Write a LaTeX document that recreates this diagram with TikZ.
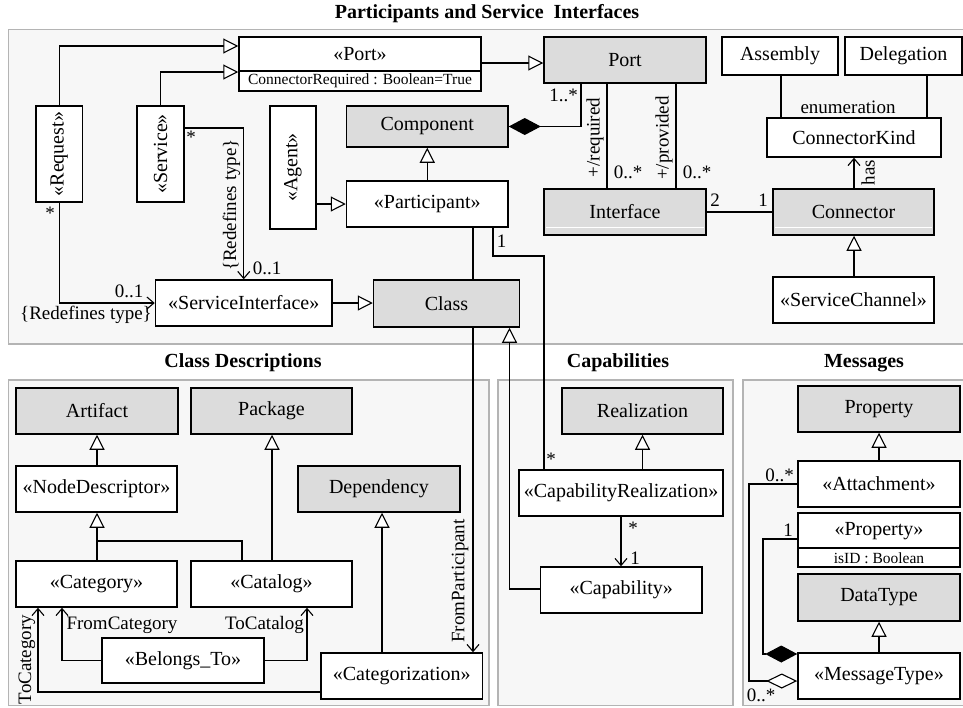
\documentclass[tikz,border=0pt]{standalone}
\usepackage{fontspec}
\setmainfont{Liberation Serif}
\usepackage{graphicx}
\usetikzlibrary{arrows.meta}
\definecolor{boxgray}{RGB}{220,220,220}
\definecolor{panelfill}{RGB}{247,247,247}
\definecolor{panelline}{RGB}{180,180,180}
\pgfdeclarelayer{bg}\pgfdeclarelayer{edges}\pgfsetlayers{bg,edges,main}
\newcommand\fbody{\fontsize{20}{24}\selectfont}
\newcommand\flab{\fontsize{19}{22}\selectfont}
\newcommand\fsmall{\fontsize{15.5}{18}\selectfont}
\newcommand\ftitle{\fontsize{20}{24}\selectfont\bfseries}
\newcommand\umlbox[7][box]{%
 \pgfmathsetmacro\ubcx{(#3+#5)/2}%
 \pgfmathsetmacro\ubcy{(#4+#6)/2}%
 \pgfmathsetmacro\ubww{#5-#3}%
 \pgfmathsetmacro\ubhh{#6-#4}%
 \node[#1, minimum width=\ubww pt, minimum height=\ubhh pt] (#2) at (\ubcx,\ubcy) {#7};}
\tikzset{
  box/.style={draw, line width=1.5pt, fill=white, inner sep=0pt, font=\fbody},
  gbox/.style={box, fill=boxgray},
  panel/.style={draw=panelline, fill=panelfill, line width=1.5pt},
  conn/.style={line width=1.1pt},
  gen/.style={conn, -{Triangle[length=15pt, width=15pt, fill=white]}},
  assoc/.style={conn, -{Straight Barb[length=7pt, width=12pt]}},
  compo/.style={conn, -{Diamond[length=32pt, width=17pt]}},
  aggr/.style={conn, -{Diamond[length=31pt, width=15pt, fill=white]}},
  lab/.style={font=\flab, inner sep=0pt},
  ttl/.style={font=\ftitle, inner sep=0pt},
}
\begin{document}
\begin{tikzpicture}[x=1pt, y=-1pt]
\useasboundingbox (0,0) rectangle (963,707);
\begin{pgfonlayer}{bg}
 \fill[white] (0,0) rectangle (963,707);
 \draw[panel] (8.5,29.5) rectangle (970,344);
 \draw[panel] (8.5,380) rectangle (489,705.5);
 \draw[panel] (498,380) rectangle (733,705.5);
 \draw[panel] (743,380) rectangle (970,705.5);
\end{pgfonlayer}
% titles
\node[ttl] (t1) at (487,14) {Participants and Service\ \ Interfaces};
\node[ttl] (t2) at (243,363) {Class Descriptions};
\node[ttl] (t3) at (618,363) {Capabilities};
\node[ttl] (t4) at (864,363) {Messages};
% top panel
\umlbox{portS}{239}{37}{481}{91}{}
\node[font=\fbody, inner sep=0pt] (portSt) at (360,54) {«Port»};
\node[font=\fsmall, inner sep=0pt] (portSa) at (360,81) {ConnectorRequired : Boolean=True};
\draw[line width=1.2pt] (portS.west |- 0,71) -- (portS.east |- 0,71);
\umlbox[gbox]{port}{544}{37}{706}{83}{Port}
\umlbox{asm}{722}{37}{838}{75}{Assembly}
\umlbox{del}{845}{37}{962}{75}{Delegation}
\umlbox{ckind}{767}{118}{941}{157}{ConnectorKind}
\umlbox[gbox]{iface}{544}{189}{706}{235}{Interface}
\umlbox[gbox]{conn}{773}{189}{934}{235}{Connector}
\draw[white, line width=1pt] (546,227) -- (704,227);
\draw[white, line width=1pt] (775,227) -- (932,227);
\umlbox{schan}{773}{277}{934}{323}{«ServiceChannel»}
\umlbox{req}{36}{106}{82.5}{202}{\rotatebox{90}{«Request»}}
\umlbox{serv}{137}{106}{184}{202}{\rotatebox{90}{«Service»}}
\umlbox{agent}{270}{106}{316}{229}{\rotatebox{90}{«Agent»}}
\umlbox[gbox]{comp}{346.5}{106}{508}{147}{Component}
\umlbox{part}{346.5}{181}{508}{227}{«Participant»}
\umlbox{si}{155.5}{280}{332}{326}{«ServiceInterface»}
\umlbox[gbox]{cls}{373.5}{280}{519.5}{327}{Class}
% class descriptions
\umlbox[gbox]{art}{16}{388}{178}{434}{Artifact}
\umlbox[gbox]{pkg}{191}{388}{352}{434}{Package}
\umlbox{nd}{16}{466}{177}{512}{«NodeDescriptor»}
\umlbox[gbox]{dep}{298}{466}{460}{512}{Dependency}
\umlbox{cat}{16}{561}{177}{607}{«Category»}
\umlbox{ctl}{191}{561}{352}{607}{«Catalog»}
\umlbox{bt}{102}{638}{264}{683}{«Belongs\_To»}
\umlbox{czn}{321}{653}{482.5}{699}{«Categorization»}
% capabilities
\umlbox[gbox]{real}{562}{388}{723}{434}{Realization}
\umlbox{cr}{519}{470}{723}{516}{«CapabilityRealization»}
\umlbox{cap}{540.5}{567}{702}{613}{«Capability»}
% messages
\umlbox[gbox]{prop}{798}{386}{960}{432}{Property}
\umlbox{att}{798}{461}{960}{507}{«Attachment»}
\umlbox{pprop}{798}{513}{960}{567}{}
\node[font=\fbody, inner sep=0pt] (ppropt) at (879,531) {«Property»};
\node[font=\fsmall, inner sep=0pt] (pprops) at (879,558) {isID : Boolean};
\draw[line width=1.2pt] (pprop.west |- 0,548) -- (pprop.east |- 0,548);
\umlbox[gbox]{dt}{798}{574}{960}{621}{DataType}
\umlbox{mt}{798}{653}{960}{699}{«MessageType»}
% connectors
\begin{pgfonlayer}{edges}
\draw[gen] (req.north) |- (portS.west |- 0,46);
\draw[gen] (serv.north) |- (portS.west |- 0,72);
\draw[assoc] (serv.east |- 0,128) -| (si.north);
\draw[assoc] (req.south) |- (si.west);
\draw[gen] (agent.east |- part.west) -- (part.west);
\draw[gen] (part.north) -- (comp.south);
\draw[gen] (si.east) -- (cls.west |- si.east);
\draw[gen] (portS.east |- 0,63) -- (port.west |- 0,63);
\draw[compo] (port.south -| 581,0) |- (comp.east);
\draw[conn] (port.south -| 607,0) -- (iface.north -| 607,0);
\draw[conn] (port.south -| 676,0) -- (iface.north -| 676,0);
\draw[conn] (iface.east) -- (conn.west);
\draw[assoc] (conn.north -| 854,0) -- (ckind.south -| 854,0);
\draw[conn] (asm.south -| 781,0) -- (ckind.north -| 781,0);
\draw[conn] (del.south -| 927,0) -- (ckind.north -| 927,0);
\draw[gen] (schan.north -| 854,0) -- (conn.south -| 854,0);
\draw[conn] (part.south -| 493,0) |- (544,256) -- (cr.north -| 544,0);
\draw[assoc] (part.south -| 473,0) -- (czn.north -| 473,0);
\draw[gen] (cap.west |- 0,589) -| (cls.south -| 509.5,0);
\draw[gen] (cr.north -| 642.5,0) -- (real.south -| 642.5,0);
\draw[assoc] (cr.south -| 621,0) -- (cap.north -| 621,0);
\draw[gen] (nd.north -| 97,0) -- (art.south -| 97,0);
\draw[gen] (cat.north -| 97,0) -- (nd.south -| 97,0);
\draw[conn] (ctl.north -| 242,0) |- (97,541);
\draw[gen] (ctl.north -| 272,0) -- (pkg.south -| 272,0);
\draw[gen] (czn.north -| 382,0) -- (dep.south -| 382,0);
\draw[assoc] (bt.west) -| (cat.south -| 62,0);
\draw[assoc] (bt.east) -| (ctl.south -| 307,0);
\draw[assoc] (czn.west |- 0,692) -| (cat.south -| 38,0);
\draw[compo] (pprop.west |- 0,539) -| (763,654) -- (mt.west |- 0,654);
\draw[aggr] (att.west) -| (749,681) -- (mt.west |- 0,681);
\draw[gen] (att.north -| 879,0) -- (prop.south -| 879,0);
\draw[gen] (mt.north -| 879,0) -- (dt.south -| 879,0);
\end{pgfonlayer}
% labels
\node[lab] (l1) at (50,213) {*};
\node[lab] (l2) at (129,291) {0..1};
\node[lab] (l3) at (86,315) {\{Redefines type\}};
\node[lab] (l4) at (191,137) {*};
\node[lab, rotate=90] (l5) at (231.5,205) {\{Redefines type\}};
\node[lab] (l6) at (267,268) {0..1};
\node[lab] (l7) at (563.5,95) {1..*};
\node[lab, rotate=90] (l8) at (595,137.5) {+/required};
\node[lab] (l9) at (628,172) {0..*};
\node[lab, rotate=90] (l10) at (664,138) {+/provided};
\node[lab] (l11) at (697,172) {0..*};
\node[lab] (l12) at (715,200) {2};
\node[lab] (l13) at (763,200) {1};
\node[lab] (l14) at (848,107) {enumeration};
\node[lab, rotate=90] (l15) at (868,172.5) {has};
\node[lab] (l16) at (501.5,241.5) {1};
\node[lab] (l17) at (551,459) {*};
\node[lab] (l18) at (633,528) {*};
\node[lab] (l19) at (635,558) {1};
\node[lab] (l20) at (122,625) {FromCategory};
\node[lab] (l21) at (264.5,625) {ToCatalog};
\node[lab, rotate=90] (l22) at (27,659.5) {ToCategory};
\node[lab, rotate=90] (l23) at (460,581) {FromParticipant};
\node[lab] (l24) at (779.5,475) {0..*};
\node[lab] (l25) at (788,530) {1};
\node[lab] (l26) at (761,695) {0..*};
\end{tikzpicture}
\end{document}
